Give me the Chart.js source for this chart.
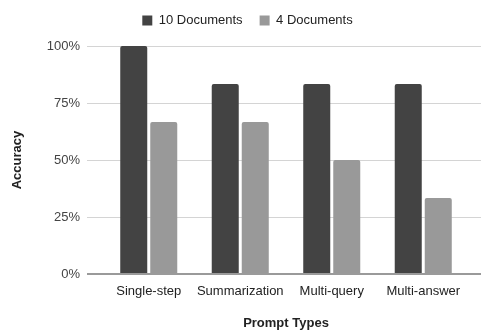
<!DOCTYPE html>
<html>
<head>
<meta charset="utf-8">
<script src="https://cdn.jsdelivr.net/npm/chart.js@4/dist/chart.umd.min.js"></script>
<style>
  html, body { margin: 0; padding: 0; background: #ffffff; }
  #wrap { width: 481px; height: 333px; position: relative; }
</style>
</head>
<body>
<div id="wrap"><canvas id="chart"></canvas></div>
<script>
// Accuracy per prompt type
const categories = ['Single-step', 'Summarization', 'Multi-query', 'Multi-answer'];
const seriesNames = ['10 Documents', '4 Documents'];
const tenDocuments = [100, 83.3, 83.3, 83.3];
const fourDocuments = [66.7, 66.7, 50, 33.3];
const yTicks = [0, 25, 50, 75, 100];

const FONT = "'Liberation Sans', Arial, Helvetica, sans-serif";
const GRID_LEFT = 87;

// Horizontal gridlines running wider than the plot area, baseline on top of the bars
const wideGrid = {
  id: 'wideGrid',
  beforeDatasetsDraw(chart) {
    const y = chart.scales.y, ctx = chart.ctx;
    ctx.save();
    ctx.strokeStyle = '#d4d4d4';
    ctx.lineWidth = 1;
    yTicks.forEach(v => {
      if (v === 0) return;
      const py = Math.round(y.getPixelForValue(v)) + 0.5;
      ctx.beginPath();
      ctx.moveTo(GRID_LEFT, py);
      ctx.lineTo(chart.width, py);
      ctx.stroke();
    });
    ctx.restore();
  },
  afterDatasetsDraw(chart) {
    const y = chart.scales.y, ctx = chart.ctx;
    const py = Math.round(y.getPixelForValue(0));
    ctx.save();
    ctx.strokeStyle = '#9a9a9a';
    ctx.lineWidth = 2;
    ctx.beginPath();
    ctx.moveTo(GRID_LEFT, py);
    ctx.lineTo(chart.width, py);
    ctx.stroke();
    ctx.restore();
  }
};

// Legend row sits a little right of the canvas centre
const legendPlacement = {
  id: 'legendPlacement',
  beforeDraw(chart) {
    const lg = chart.legend;
    if (!lg) return;
    lg.left = 14;
    lg.right = chart.width;
    lg.top = -3;
    lg.bottom = lg.top + lg.height;
  }
};

new Chart(document.getElementById('chart'), {
  type: 'bar',
  data: {
    labels: categories,
    datasets: [
      {
        label: seriesNames[0],
        data: tenDocuments,
        backgroundColor: '#434343',
        borderRadius: { topLeft: 2, topRight: 2 },
        borderSkipped: 'start'
      },
      {
        label: seriesNames[1],
        data: fourDocuments,
        backgroundColor: '#999999',
        borderRadius: { topLeft: 2, topRight: 2 },
        borderSkipped: 'start'
      }
    ]
  },
  options: {
    responsive: true,
    maintainAspectRatio: false,
    animation: false,
    devicePixelRatio: 1,
    categoryPercentage: 0.656,
    barPercentage: 0.9,
    layout: { padding: { left: 0, right: 12, top: 6, bottom: 0 } },
    plugins: {
      legend: {
        position: 'top',
        labels: {
          boxWidth: 10,
          boxHeight: 10,
          padding: 17,
          color: '#222222',
          font: { family: FONT, size: 13 }
        }
      },
      tooltip: { enabled: false }
    },
    scales: {
      x: {
        grid: { display: false, drawTicks: false },
        border: { display: false },
        ticks: {
          padding: 10,
          color: '#222222',
          font: { family: FONT, size: 13 },
          maxRotation: 0,
          autoSkip: false
        },
        title: {
          display: true,
          text: 'Prompt Types',
          color: '#222222',
          font: { family: FONT, size: 13, weight: 'bold' },
          padding: { top: 0, bottom: 2 }
        },
        afterFit(scale) { scale.height = 59; }
      },
      y: {
        min: 0,
        max: 100,
        grid: { display: false, drawTicks: false },
        border: { display: false },
        afterBuildTicks(scale) { scale.ticks = yTicks.map(v => ({ value: v })); },
        ticks: {
          padding: 23,
          color: '#444444',
          font: { family: FONT, size: 13 },
          callback: v => v + '%'
        },
        title: {
          display: true,
          text: 'Accuracy',
          color: '#222222',
          font: { family: FONT, size: 13, weight: 'bold' },
          padding: { top: 10, bottom: 0 }
        },
        afterFit(scale) { scale.width = 103; }
      }
    }
  },
  plugins: [wideGrid, legendPlacement]
});
</script>
</body>
</html>
